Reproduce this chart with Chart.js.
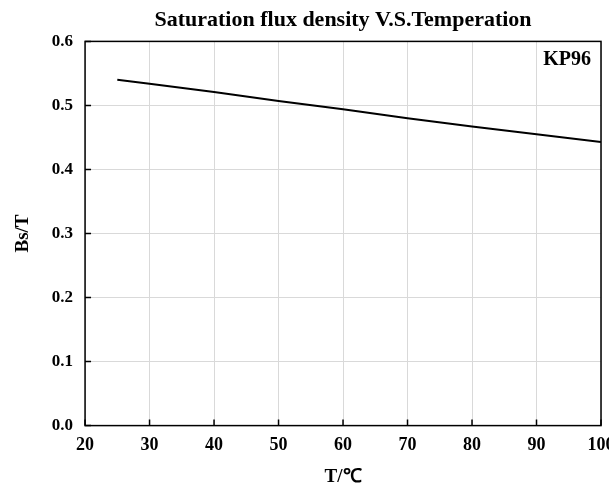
<!DOCTYPE html>
<html>
<head>
<meta charset="utf-8">
<script src="https://cdn.jsdelivr.net/npm/chart.js@4"></script>
<style>
  html, body { margin: 0; padding: 0; background: #fff; }
  #wrap { width: 609px; height: 491px; }
</style>
</head>
<body>
<div id="wrap"><canvas id="chart"></canvas></div>
<script>
// Data
const temps = [25, 30, 40, 50, 60, 70, 80, 90, 100];
const bsValues = [0.540, 0.534, 0.521, 0.507, 0.494, 0.480, 0.467, 0.455, 0.443];
const xTicks = [20, 30, 40, 50, 60, 70, 80, 90, 100];
const yTicks = [0.0, 0.1, 0.2, 0.3, 0.4, 0.5, 0.6];

const serif = "'Liberation Serif', 'Times New Roman', serif";

// Frame round the plot, inward ticks and the KP96 label
const framePlugin = {
  id: 'frame',
  afterDraw(chart) {
    const { ctx, chartArea: a, scales } = chart;
    ctx.save();
    ctx.strokeStyle = '#000';
    ctx.lineWidth = 1.5;
    ctx.strokeRect(a.left, a.top, a.right - a.left, a.bottom - a.top);
    ctx.beginPath();
    xTicks.forEach(v => {
      const x = scales.x.getPixelForValue(v);
      ctx.moveTo(x, a.bottom);
      ctx.lineTo(x, a.bottom - 6);
    });
    yTicks.forEach(v => {
      const y = scales.y.getPixelForValue(v);
      ctx.moveTo(a.left, y);
      ctx.lineTo(a.left + 6, y);
    });
    ctx.stroke();
    ctx.fillStyle = '#000';
    ctx.font = 'bold 20px ' + serif;
    ctx.textAlign = 'right';
    ctx.textBaseline = 'middle';
    ctx.fillText('KP96', a.right - 10, a.top + 18);
    ctx.restore();
  }
};

new Chart(document.getElementById('chart'), {
  type: 'scatter',
  data: {
    datasets: [{
      label: 'KP96',
      data: temps.map((t, i) => ({ x: t, y: bsValues[i] })),
      showLine: true,
      borderColor: '#000',
      borderWidth: 2,
      pointRadius: 0,
      tension: 0
    }]
  },
  options: {
    responsive: true,
    maintainAspectRatio: false,
    animation: false,
    layout: { padding: { left: 6, right: 8, top: 0, bottom: 3 } },
    plugins: {
      legend: { display: false },
      tooltip: { enabled: false },
      title: {
        display: true,
        text: 'Saturation flux density V.S.Temperation',
        fullSize: false,
        color: '#000',
        font: { family: serif, size: 22, weight: 'bold' },
        padding: { top: 7, bottom: 8 }
      }
    },
    scales: {
      x: {
        type: 'linear',
        min: 20,
        max: 100,
        afterBuildTicks: s => { s.ticks = xTicks.map(v => ({ value: v })); },
        afterFit: s => { s.paddingRight = 0; s.paddingLeft = 0; },
        grid: { color: '#d9d9d9', lineWidth: 1, drawTicks: false },
        border: { display: false },
        ticks: {
          color: '#000',
          padding: 9,
          maxRotation: 0,
          font: { family: serif, size: 18, weight: 'bold' }
        },
        title: {
          display: true,
          text: 'T/℃',
          color: '#000',
          font: { family: serif, size: 19, weight: 'bold' },
          padding: { top: 0, bottom: 0 }
        }
      },
      y: {
        min: 0,
        max: 0.6,
        afterBuildTicks: s => { s.ticks = yTicks.map(v => ({ value: v })); },
        afterFit: s => { s.paddingTop = 0; s.paddingBottom = 0; },
        grid: { color: '#d9d9d9', lineWidth: 1, drawTicks: false },
        border: { display: false },
        ticks: {
          color: '#000',
          padding: 12,
          font: { family: serif, size: 17, weight: 'bold' },
          callback: v => v.toFixed(1)
        },
        title: {
          display: true,
          text: 'Bs/T',
          color: '#000',
          font: { family: serif, size: 19, weight: 'bold' },
          padding: { top: 6, bottom: 5 }
        }
      }
    }
  },
  plugins: [framePlugin]
});
</script>
</body>
</html>
